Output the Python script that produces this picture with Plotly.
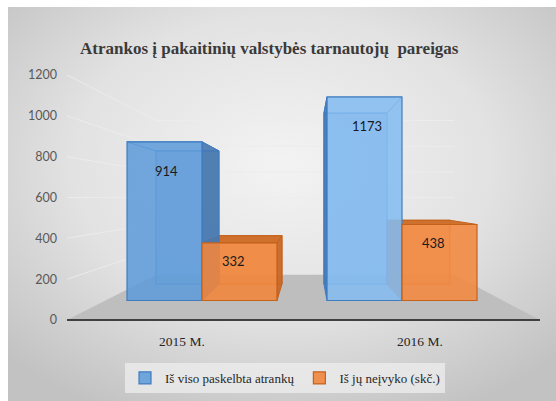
import base64
import plotly.graph_objects as go

# ---------------- data ----------------
categories = ["2015 M.", "2016 M."]
series_names = ["Iš viso paskelbta atrankų", "Iš jų neįvyko (skč.)"]
total_values = [914, 1173]
failed_values = [332, 438]
y_ticks = [0, 200, 400, 600, 800, 1000, 1200]
title_text = "Atrankos į pakaitinių valstybės tarnautojų  pareigas"

# ---------------- geometry / style ----------------
W, H = 556, 401
BAR_W = 0.375
SERIF = "Liberation Serif, Times New Roman, serif"
X_RANGE = [(0 - 202) / 200, (W - 202) / 200]
Y_RANGE = [(300.5 - H) / 0.1735, 300.5 / 0.1735]
VP_X, VP_V, K_BAR = (308 - 202) / 200, (300.5 - 198) / 0.1735, 0.84
LBL_S = 245 / 1200
LBL_RANGE = [-(H - 320) / LBL_S, 320 / LBL_S]
VP_PX, VP_PY, K_WALL = 308, 198, 0.63
FLOOR_L, FLOOR_R, FLOOR_Y = 67, 540, 320

blue = dict(front=["rgba(96,156,218,0.88)", "rgba(132,188,240,0.88)"],
            side="rgba(70,118,172,0.9)", top="rgba(70,118,172,0.9)",
            back="rgba(96,156,218,0.35)", edge="#3F7CC0")
orange = dict(front=["rgba(240,134,62,0.9)", "rgba(242,138,66,0.9)"],
              side="rgba(200,100,34,0.9)", top="rgba(206,108,38,0.95)",
              back="rgba(240,134,62,0.35)", edge="#C4621C")

fig = go.Figure()


def persp(x, v):
    return VP_X + K_BAR * (x - VP_X), VP_V + K_BAR * (v - VP_V)


def poly(pts, fill, edge):
    xs = [p[0] for p in pts] + [pts[0][0]]
    ys = [p[1] for p in pts] + [pts[0][1]]
    fig.add_trace(go.Scatter(x=xs, y=ys, mode="lines", fill="toself",
                             fillcolor=fill, line=dict(color=edge, width=1),
                             hoverinfo="skip", showlegend=False))


def box_faces(x0, x1, v, st):
    f = [(x0, 0), (x1, 0), (x1, v), (x0, v)]
    b = [persp(*p) for p in f]
    poly(b, st["back"], st["edge"])
    if x1 < VP_X:
        poly([f[1], f[2], b[2], b[1]], st["side"], st["edge"])
    if x0 > VP_X:
        poly([f[0], f[3], b[3], b[0]], st["side"], st["edge"])
    if v < VP_V:
        poly([f[3], f[2], b[2], b[3]], st["top"], st["edge"])
    else:
        poly([f[3], f[2], b[2], b[3]], "rgba(0,0,0,0)", st["edge"])


for i in range(len(categories)):
    box_faces(i, i + BAR_W, failed_values[i], orange)
for i in range(len(categories)):
    box_faces(i - BAR_W, i, total_values[i], blue)

# front faces: real bar traces on an overlaying copy of the bar axes (drawn above the faces)
fig.add_trace(go.Bar(x=list(range(len(categories))), y=total_values, width=BAR_W,
                     offset=-BAR_W, name=series_names[0], xaxis="x3", yaxis="y4",
                     marker=dict(color=blue["front"], line=dict(color=blue["edge"], width=1.2)),
                     hoverinfo="y"))
fig.add_trace(go.Bar(x=list(range(len(categories))), y=failed_values, width=BAR_W,
                     offset=0, name=series_names[1], xaxis="x3", yaxis="y4",
                     marker=dict(color=orange["front"], line=dict(color=orange["edge"], width=1.2)),
                     hoverinfo="y"))
fig.add_trace(go.Scatter(x=[None], y=[None], xaxis="x", yaxis="y3", showlegend=False,
                         hoverinfo="skip"))

annotations = []
for i, v in enumerate(total_values):
    annotations.append(dict(x=i - BAR_W / 2, y=v, xref="x", yref="y", text=str(v),
                            showarrow=False, xshift=2, yshift=-29,
                            font=dict(family="Lato", size=13, color="#1a1a1a")))
for i, v in enumerate(failed_values):
    annotations.append(dict(x=i + BAR_W / 2, y=v, xref="x", yref="y", text=str(v),
                            showarrow=False, xshift=-6, yshift=-18,
                            font=dict(family="Lato", size=13, color="#1a1a1a")))
for i, c in enumerate(categories):
    annotations.append(dict(x=VP_X + (i - VP_X) / K_BAR, y=0, xref="x", yref="y",
                            text=c, showarrow=False, yshift=-(341 - 300.5),
                            font=dict(family=SERIF, size=13.5, color="#262626")))
annotations.append(dict(x=269 / W, y=1 - 37 / H, xref="paper", yref="paper",
                        text="<b>" + title_text + "</b>", showarrow=False,
                        font=dict(family=SERIF, size=17, color="#3a3a3a")))

shapes = []


def back_x(px):
    return VP_PX + K_WALL * (px - VP_PX)


def back_y(py):
    return VP_PY + K_WALL * (py - VP_PY)


fl = [(FLOOR_L, FLOOR_Y), (FLOOR_R, FLOOR_Y),
      (back_x(FLOOR_R), back_y(FLOOR_Y)), (back_x(FLOOR_L), back_y(FLOOR_Y))]
path = "M " + " L ".join(f"{x},{y}" for x, y in fl) + " Z"
shapes.append(dict(type="path", path=path, xref="x2", yref="y2", layer="below",
                   fillcolor="#BEBEBE", line=dict(width=0)))
for t in y_ticks:
    yf = 320 - t * LBL_S
    yb = back_y(yf)
    if t > 0:
        shapes.append(dict(type="line", xref="x2", yref="y2", layer="below",
                           x0=FLOOR_L, y0=yf, x1=back_x(FLOOR_L), y1=yb,
                           line=dict(color="rgba(236,236,236,0.9)", width=1)))
        shapes.append(dict(type="line", xref="x2", yref="y2", layer="below",
                           x0=back_x(FLOOR_L), y0=yb, x1=back_x(FLOOR_R), y1=yb,
                           line=dict(color="rgba(236,236,236,0.9)", width=1)))
shapes.append(dict(type="line", xref="x2", yref="y2", layer="above",
                   x0=FLOOR_L, y0=FLOOR_Y, x1=FLOOR_R, y1=FLOOR_Y,
                   line=dict(color="#404040", width=2)))

svg = (f"<svg xmlns='http://www.w3.org/2000/svg' width='548' height='394' viewBox='0 0 548 394' "
       f"preserveAspectRatio='none'><defs><radialGradient id='g' cx='50%' cy='40%' r='70%'>"
       f"<stop offset='0' stop-color='#F3F3F3'/><stop offset='0.55' stop-color='#E2E2E2'/>"
       f"<stop offset='1' stop-color='#C2C2C2'/></radialGradient></defs>"
       f"<rect width='548' height='394' fill='url(#g)'/></svg>")
src = "data:image/svg+xml;base64," + base64.b64encode(svg.encode()).decode()

fig.update_layout(
    width=W, height=H,
    margin=dict(l=0, r=0, t=0, b=0),
    paper_bgcolor="white", plot_bgcolor="rgba(0,0,0,0)",
    barmode="overlay",
    showlegend=True,
    legend=dict(orientation="h", x=285 / W, xanchor="center", y=1 - 378 / H, yanchor="middle",
                bgcolor="rgba(238,238,238,0.75)",
                font=dict(family=SERIF, size=13, color="#262626"),
                itemwidth=30, traceorder="normal"),
    xaxis=dict(domain=[0, 1], range=X_RANGE, visible=False, fixedrange=True),
    yaxis=dict(domain=[0, 1], range=Y_RANGE, visible=False, fixedrange=True),
    xaxis2=dict(overlaying="x", range=[0, W], visible=False),
    yaxis2=dict(overlaying="y", range=[H, 0], visible=False),
    yaxis3=dict(overlaying="y", anchor="free", position=57 / W, side="left",
                range=LBL_RANGE, tickvals=y_ticks, showgrid=False, zeroline=False,
                showline=False, ticks="", fixedrange=True,
                tickfont=dict(family="Lato", size=12.5, color="#595959")),
    xaxis3=dict(overlaying="x", range=X_RANGE, visible=False, fixedrange=True),
    yaxis4=dict(overlaying="y", range=Y_RANGE, visible=False, fixedrange=True),
    images=[dict(source=src, xref="paper", yref="paper", x=8 / W, y=1 - 7 / H,
                 sizex=548 / W, sizey=394 / H, sizing="stretch", xanchor="left",
                 yanchor="top", layer="below")],
    shapes=shapes,
    annotations=annotations,
)

fig.write_html("out.html")
